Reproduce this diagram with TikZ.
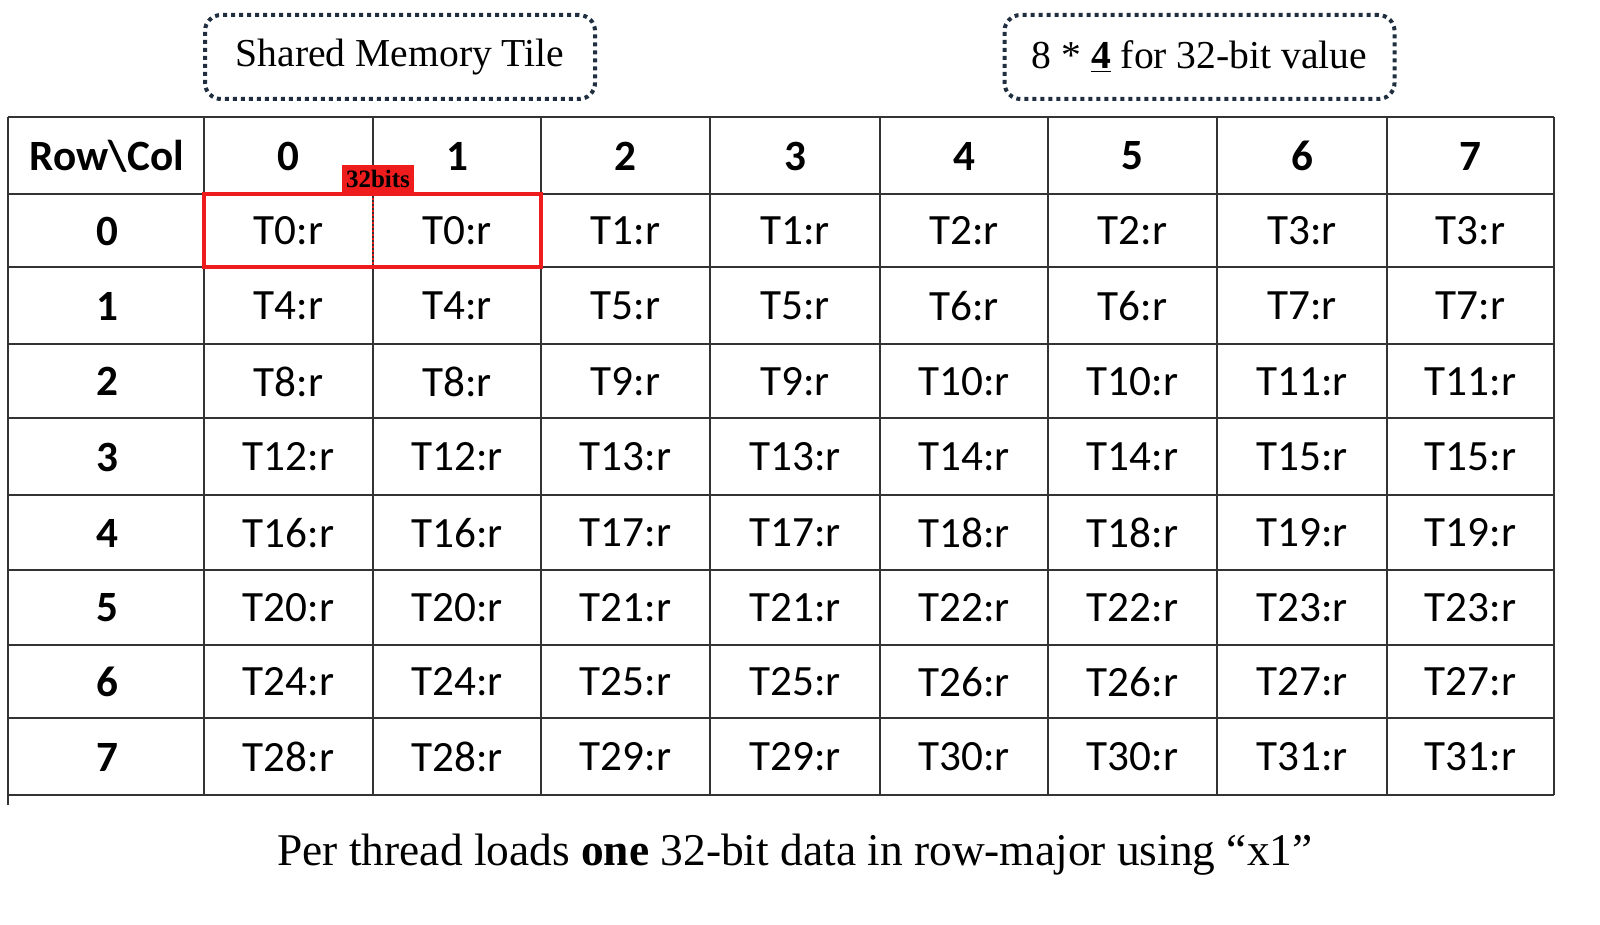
\documentclass[tikz,border=0pt]{standalone}
\usepackage{fontspec}
\setmainfont{Liberation Serif}
\newfontfamily\califont{Carlito}
\definecolor{gridc}{HTML}{333333}
\definecolor{dotc}{HTML}{1F2F3F}
\definecolor{hl}{HTML}{EE1C1C}
\begin{document}
\begin{tikzpicture}[x=0.5pt,y=-0.5pt,
  gridline/.style={draw=gridc,line width=1pt},
  cell/.style={font=\califont\fontsize{21.6}{26}\selectfont,inner sep=0pt,anchor=center},
  hcell/.style={font=\califont\bfseries\fontsize{21.6}{26}\selectfont,inner sep=0pt,anchor=center},
  title/.style={draw=dotc,line width=2pt,dotted,rounded corners=8pt,minimum width=195pt,minimum height=42pt,font=\fontsize{19.8}{24}\selectfont,inner sep=0pt}]
\useasboundingbox (0,0) rectangle (1600,925);
\fill[white] (0,0) rectangle (1600,925);
% grid
\foreach \yy in {117,194,267,344,418,495,570,645,718,795}
  \draw[gridline] (8,\yy) -- (1554,\yy);
\foreach \xx in {8,204,373,541,710,880,1048,1217,1387,1554}
  \draw[gridline] (\xx,117) -- (\xx,795);
\draw[gridline] (8,795) -- (8,805);
% headers
\node[hcell] (hrc) at (107,156) {Row\textbackslash Col};
\foreach \c/\xa in {0/288.5,1/457,2/625.5,3/795,4/964,5/1132.5,6/1302,7/1470.5}
  \node[hcell] (hc\c) at (\xa,156) {\c};
\foreach \r/\ya in {0/231,1/306,2/381.5,3/457,4/533,5/608,6/682,7/757}{
  \node[hcell] (hr\r) at (107,\ya) {\r};
  \foreach \c/\xa in {0/288.5,1/457,2/625.5,3/795,4/964,5/1132.5,6/1302,7/1470.5}{
    \pgfmathtruncatemacro\t{\r*4+int(\c/2)}
    \node[cell] (c\r\c) at (\xa,\ya) {T\t:r};
  }
}
% highlight
\draw[hl,line width=1.6pt] (204,194) rectangle (541,267);
\draw[hl,line width=1pt,densely dotted] (373,194) -- (373,267);
\node[fill=hl,inner sep=0pt,minimum width=36pt,minimum height=13.5pt,font=\bfseries\fontsize{12.5}{14}\selectfont] (bits) at (378,178.5) {32bits};
% titles
\node[title] (t1) at (400,57) {Shared Memory Tile};
\node[title] (t2) at (1199.5,57) {8 * \textbf{\underline{4}} for 32-bit value};
% caption
\node[font=\fontsize{22.7}{27}\selectfont,inner sep=0pt] (cap) at (795,855) {Per thread loads \textbf{one} 32-bit data in row-major using “x1”};
\end{tikzpicture}
\end{document}
